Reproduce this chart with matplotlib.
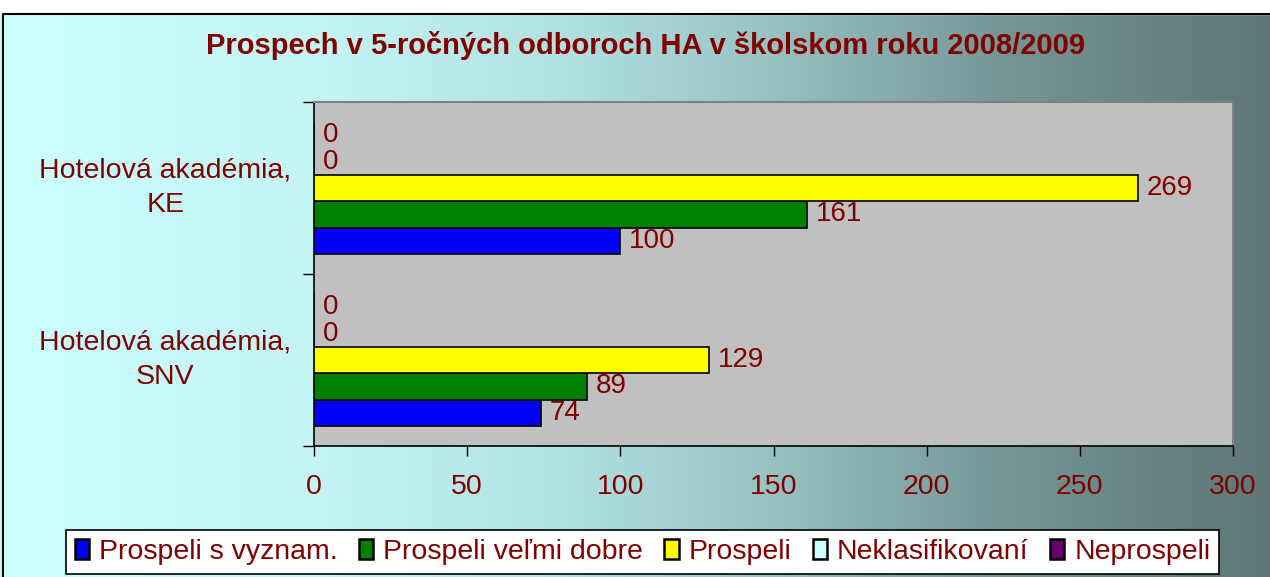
import numpy as np
import matplotlib
matplotlib.use("Agg")
import matplotlib.pyplot as plt
from matplotlib.colors import LinearSegmentedColormap

# ---------------------------------------------------------------------------
# Data
# ---------------------------------------------------------------------------
schools = ["Hotelová akadémia,\nSNV", "Hotelová akadémia,\nKE"]
series_names = ["Prospeli s vyznam.", "Prospeli veľmi dobre", "Prospeli",
                "Neklasifikovaní", "Neprospeli"]
series_colors = ["#0000FF", "#008000", "#FFFF00", "#CCFFFF", "#660066"]
values = {
    "Prospeli s vyznam.": [74, 100],
    "Prospeli veľmi dobre": [89, 161],
    "Prospeli": [129, 269],
    "Neklasifikovaní": [0, 0],
    "Neprospeli": [0, 0],
}
x_ticks = [0, 50, 100, 150, 200, 250, 300]

DARK_RED = "#800000"
plt.rcParams["font.family"] = ["Liberation Sans", "DejaVu Sans"]

fig = plt.figure(figsize=(12.7, 5.77), dpi=100)

# gradient background
bg = fig.add_axes([0, 0, 1, 1], zorder=-10)
grad = LinearSegmentedColormap.from_list(
    "bg", [(0.0, "#CCFFFF"), (0.25, "#C4F4F4"), (0.45, "#B0E0E0"),
           (0.6, "#98C4C4"), (0.8, "#749494"), (1.0, "#5E7676")])
bg.imshow(np.linspace(0, 1, 512)[None, :], aspect="auto", cmap=grad,
          extent=[0, 1, 0, 1])
bg.fill_between([0, 1], 1 - 14 / 577, 1, color="white")
bg.plot([3 / 1270, 3 / 1270, 1], [0, 1 - 14 / 577, 1 - 14 / 577],
        color="black", lw=1.5)
bg.set_xlim(0, 1)
bg.set_ylim(0, 1)
bg.axis("off")

ax = fig.add_axes([314 / 1270, 131 / 577, 919 / 1270, 344 / 577])
ax.set_facecolor("#C0C0C0")

n = len(series_names)
h = 1 / (n + 1.5)
y = np.arange(len(schools))
for i, name in enumerate(series_names):
    pos = y - 0.5 + 0.75 * h + h / 2 + i * h
    vals = values[name]
    ax.barh(pos, vals, height=h, color=series_colors[i], edgecolor="black",
            linewidth=1.2, label=name, zorder=3)
    for p, v in zip(pos, vals):
        ax.annotate(str(v), (v, p), xytext=(6.5, 0), textcoords="offset points",
                    va="center", ha="left", fontsize=20, color=DARK_RED)

ax.set_xlim(0, 300)
ax.set_ylim(-0.5, len(schools) - 0.5)
ax.set_xticks(x_ticks)
ax.set_xticklabels([str(t) for t in x_ticks])
ax.tick_params(axis="x", direction="out", length=7, width=1, pad=13,
               labelsize=20.5, labelcolor=DARK_RED)

ax.set_yticks(y)
ax.set_yticklabels(schools, ha="center", va="center", linespacing=1.45)
ax.set_yticks([-0.5, 0.5, 1.5], minor=True)
ax.tick_params(axis="y", which="major", length=0, pad=107, labelsize=20.5,
               labelcolor=DARK_RED)
ax.tick_params(axis="y", which="minor", direction="out", length=8, width=1)

for side in ["top", "right"]:
    ax.spines[side].set_color("#808080")
    ax.spines[side].set_linewidth(1.5)
for side in ["left", "bottom"]:
    ax.spines[side].set_color("black")
    ax.spines[side].set_linewidth(1.2)

fig.text(645 / 1270, 1 - 46 / 577,
         "Prospech v 5-ročných odboroch HA v školskom roku 2008/2009",
         ha="center", va="center", fontsize=21, fontweight="bold",
         color=DARK_RED)

leg = fig.legend(*ax.get_legend_handles_labels(), loc="center", ncol=5,
                 bbox_to_anchor=(642.5 / 1270, 1 - 552 / 577),
                 fontsize=20.5, labelcolor=DARK_RED, frameon=True,
                 fancybox=False, framealpha=1, edgecolor="black",
                 handlelength=0.5, handleheight=0.7, handletextpad=0.35,
                 columnspacing=0.75, borderpad=0.3)
leg.get_frame().set_linewidth(1.2)
for patch in leg.get_patches():
    patch.set_linewidth(1.8)

fig.savefig("out.png", dpi=100)
